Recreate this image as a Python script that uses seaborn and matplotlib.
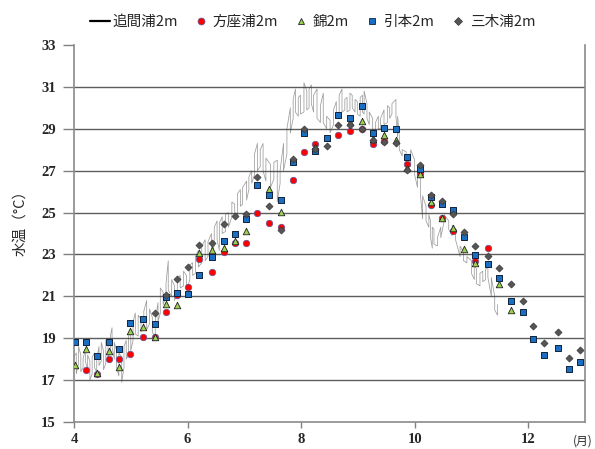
import numpy as np
import pandas as pd
import matplotlib
matplotlib.use("Agg")
import matplotlib.pyplot as plt
from matplotlib.lines import Line2D
import seaborn as sns

# ---- observation dates (fractional month) and point readings (deg C) ----
obs_month = [4.02, 4.21, 4.41, 4.61, 4.80, 4.99, 5.22, 5.43, 5.62, 5.81,
             6.01, 6.21, 6.43, 6.64, 6.84, 7.03, 7.23, 7.43, 7.65, 7.85,
             8.05, 8.24, 8.45, 8.65, 8.86, 9.07, 9.27, 9.46, 9.67, 9.86,
             10.09, 10.28, 10.48, 10.68, 10.87, 11.07, 11.30, 11.49, 11.70, 11.90,
             12.09, 12.28, 12.52, 12.71, 12.91]

nan = np.nan
hozaura = [nan, 17.48, 17.28, 17.99, 17.99, 18.27, 19.05, 19.04, 20.27, 21.08,
           21.46, 22.77, 22.18, 23.13, 23.56, 23.56, 25.00, 24.49, 24.30, 26.57,
           27.90, 28.29, nan, 28.72, 28.88, 28.97, 28.25, 28.40, nan, 27.34,
           26.84, 25.35, 24.76, 24.12, nan, 22.71, 23.29, nan, nan, nan,
           nan, nan, nan, nan, nan]
nishiki = [17.72, 18.47, 17.33, 18.39, 17.64, 19.35, 19.55, 19.04, 20.65, 20.57,
           nan, 23.05, 23.20, 23.30, 23.66, 24.10, nan, 26.12, 25.03, nan,
           nan, 28.14, nan, nan, 29.30, 29.37, 28.49, 28.70, 28.45, 27.15,
           26.82, 25.51, 24.76, 24.28, 23.28, 22.60, nan, 21.60, 20.36, nan,
           nan, nan, nan, nan, nan]
hikimoto = [18.80, 18.80, 18.15, 18.80, 18.50, 19.75, 19.90, 19.67, 20.95, 21.15,
            21.12, 22.03, 22.87, 23.65, 23.97, 24.68, 26.30, 25.84, 25.60, 27.42,
            28.78, 27.96, 28.56, 29.68, 29.53, 30.10, 28.80, 29.03, 28.97, 27.67,
            27.06, 25.72, 25.40, 25.11, 23.84, 22.97, 22.52, 21.88, 20.76, 20.24,
            18.98, 18.19, 18.54, 17.54, 17.87]
mikiura = [nan, nan, nan, nan, nan, nan, nan, 20.22, 21.08, 21.83,
           22.38, 23.46, 23.56, 24.45, 24.84, 24.93, 26.69, 25.31, 24.17, 27.57,
           28.97, 28.05, 28.17, 29.16, 29.16, 28.97, 28.46, 28.37, 28.30, 27.03,
           27.27, 25.83, 25.53, 24.92, 24.07, 23.40, 22.92, 22.36, 21.58, 20.80,
           19.57, 18.75, 19.30, 18.06, 18.43]

# ---- continuous logger at Hasamaura: daily low / high envelope ----
trace_month = [4.00, 4.04, 4.08, 4.12, 4.16, 4.20, 4.24, 4.28, 4.32, 4.36,
               4.40, 4.44, 4.48, 4.52, 4.56, 4.60, 4.64, 4.67, 4.71, 4.75,
               4.79, 4.84, 4.88, 4.92, 4.96,
               5.00, 5.04, 5.08, 5.13, 5.18, 5.23, 5.28, 5.33, 5.38, 5.43,
               5.48, 5.52, 5.57, 5.62, 5.66, 5.72, 5.77, 5.82, 5.87, 5.93, 5.98,
               6.04, 6.09, 6.14, 6.19, 6.25, 6.31, 6.36, 6.42, 6.47, 6.52,
               6.56, 6.61, 6.67, 6.72, 6.78, 6.83, 6.88, 6.93, 6.97,
               7.04, 7.08, 7.13, 7.18, 7.23, 7.28, 7.33, 7.38, 7.46, 7.52,
               7.58, 7.63, 7.69, 7.75, 7.81, 7.86, 7.90, 7.95, 7.99,
               8.05, 8.10, 8.14, 8.18, 8.22, 8.28, 8.34, 8.39, 8.45, 8.51,
               8.57, 8.62, 8.67, 8.72, 8.77, 8.81, 8.86, 8.90, 8.95, 8.99,
               9.04, 9.08, 9.11, 9.16, 9.20, 9.26, 9.31, 9.36, 9.40, 9.46,
               9.52, 9.56, 9.60, 9.67, 9.70, 9.73, 9.78, 9.85, 9.93,
               10.00, 10.05, 10.10, 10.14, 10.20, 10.25, 10.28, 10.31, 10.34, 10.40,
               10.46, 10.52, 10.60, 10.66, 10.72, 10.80, 10.86, 10.92,
               11.00, 11.05, 11.09, 11.15, 11.20, 11.25, 11.29, 11.35, 11.41, 11.46]
trace_low = [17.6, 17.3, 17.8, 17.4, 17.6, 17.9, 17.5, 17.0, 17.3, 17.6,
             17.4, 17.7, 17.9, 17.5, 17.8, 18.1, 18.3, 18.6, 18.0, 17.6,
             17.2, 16.9, 17.6, 18.0, 18.2,
             18.4, 18.9, 19.2, 19.1, 19.3, 19.5, 19.4, 19.7, 19.3, 19.0,
             19.8, 20.2, 20.6, 21.0, 21.3, 21.0, 20.8, 21.2, 21.4, 21.5, 21.3,
             21.8, 22.0, 22.1, 22.4, 22.6, 22.7, 22.9, 23.1, 23.4, 23.7,
             23.2, 24.0, 24.1, 24.3, 24.8, 25.0, 24.8, 25.3, 25.4,
             25.6, 26.1, 26.4, 26.8, 27.0, 27.2, 27.0, 26.5, 26.2, 26.6,
             25.5, 26.4, 27.0, 27.8, 28.8, 29.5, 29.8, 29.6, 29.7,
             29.8, 29.9, 30.0, 30.2, 29.8, 29.5, 29.3, 29.3, 29.0, 28.8,
             29.2, 29.5, 29.8, 29.8, 29.9, 29.8, 29.9, 30.0, 29.8, 29.7,
             29.6, 29.8, 29.7, 29.5, 29.2, 29.0, 28.9, 29.0, 29.0, 29.2,
             29.3, 29.5, 29.7, 29.6, 28.6, 28.0, 27.7, 27.4, 27.2,
             26.8, 26.2, 25.9, 24.7, 24.6, 24.3, 23.8, 23.3, 23.5, 23.4,
             23.8, 24.6, 24.2, 23.9, 23.7, 22.9, 22.7, 22.6,
             22.1, 21.8, 21.6, 21.5, 21.7, 21.8, 21.9, 21.0, 20.35, 20.1]
trace_high = [18.1, 18.3, 18.6, 18.2, 18.0, 18.5, 18.2, 17.9, 18.1, 18.3,
              18.0, 18.6, 18.8, 18.4, 18.9, 19.0, 19.1, 19.5, 18.8, 18.4,
              18.3, 18.1, 18.6, 18.9, 19.1,
              19.3, 19.8, 20.2, 20.1, 19.9, 20.3, 20.8, 20.4, 20.0, 19.8,
              20.7, 21.4, 21.2, 21.6, 22.7, 21.8, 21.5, 21.9, 22.0, 22.2, 22.0,
              22.5, 22.6, 22.9, 23.2, 23.4, 23.7, 23.6, 24.0, 24.3, 24.6,
              24.5, 24.8, 24.9, 25.0, 25.5, 25.4, 25.9, 26.1, 26.2,
              26.5, 26.7, 27.0, 27.8, 28.3, 28.0, 28.3, 27.6, 27.3, 27.4,
              27.5, 27.0, 28.3, 29.0, 30.0, 30.4, 30.9, 30.5, 30.6,
              31.2, 30.8, 30.9, 31.1, 30.6, 30.9, 30.1, 30.7, 29.6, 29.4,
              29.9, 30.3, 30.6, 30.9, 30.4, 30.5, 30.7, 30.6, 30.4, 30.3,
              30.5, 30.6, 30.8, 30.2, 29.8, 29.5, 29.3, 29.6, 29.5, 29.9,
              30.1, 30.0, 30.2, 30.4, 29.6, 28.6, 28.0, 27.9, 28.0,
              27.5, 26.9, 26.6, 25.8, 25.3, 24.9, 24.6, 24.3, 24.2, 23.8,
              24.3, 24.9, 24.6, 24.4, 24.2, 23.4, 23.1, 22.9,
              22.7, 22.5, 22.3, 22.1, 22.2, 22.3, 22.4, 21.9, 21.0, 20.6]

month_ticks = [4, 6, 8, 10, 12]
temp_ticks = [15, 17, 19, 21, 23, 25, 27, 29, 31, 33]

labels = ["追間浦2m", "方座浦2m", "錦2m", "引本2m", "三木浦2m"]

sns.set_theme(style="white")
plt.rcParams["font.family"] = ["Noto Sans CJK JP", "DejaVu Sans"]

fig = plt.figure(figsize=(5.95, 4.49), dpi=100)
ax = fig.add_axes([74 / 595, 1 - 422 / 449, (585 - 74) / 595, (422 - 45) / 449])

# logger trace: each day drawn as a vertical stroke low<->high, joined in time order
xs, ys = [], []
for i, (m, lo, hi) in enumerate(zip(trace_month, trace_low, trace_high)):
    pair = (lo, hi) if i % 2 == 0 else (hi, lo)
    xs += [m, m]
    ys += list(pair)
trace_df = pd.DataFrame({"month": xs, "temp": ys})
sns.lineplot(data=trace_df, x="month", y="temp", sort=False, estimator=None,
             errorbar=None, color="#3a3a3a", lw=0.55, alpha=0.5, ax=ax, zorder=2)

obs = pd.DataFrame({"month": obs_month, "hozaura": hozaura, "nishiki": nishiki,
                    "hikimoto": hikimoto, "mikiura": mikiura})

styles = [
    ("hozaura", "o", 22, "#ff0000", "#5a5aa0", 0.5),
    ("nishiki", "^", 22, "#9bd14f", "#222222", 0.6),
    ("hikimoto", "s", 25, "#1b6fc2", "#10233d", 0.7),
    ("mikiura", "D", 13, "#555555", "#3a3a3a", 0.5),
]
for z, (col, mk, size, fc, ec, lw) in enumerate(styles):
    sns.scatterplot(data=obs, x="month", y=col, marker=mk, s=size, color=fc,
                    edgecolor=ec, linewidth=lw, ax=ax, zorder=3 + z, legend=False)

ax.set_xlim(4, 13)
ax.set_ylim(15, 33)
ax.set_xticks(month_ticks)
ax.set_yticks(temp_ticks)
ax.set_xlabel("")
ax.set_ylabel("")

tick_font = dict(family="Liberation Serif", weight="bold", size=10.5)
ax.set_xticklabels([str(t) for t in month_ticks], fontdict=tick_font)
ax.set_yticklabels([str(t) for t in temp_ticks], fontdict=tick_font)
ax.tick_params(axis="y", direction="out", length=8, width=1, color="#808080", pad=5, left=True)
ax.tick_params(axis="x", direction="out", length=4, width=1, color="#808080", pad=4, bottom=True)

ax.set_axisbelow(True)
ax.yaxis.grid(True, color="#5c5c5c", lw=1.0)
gls = ax.yaxis.get_gridlines()
gls[0].set_visible(False)
gls[-1].set_visible(False)

for side in ["left", "bottom", "right"]:
    ax.spines[side].set_visible(True)
    ax.spines[side].set_color("#8a8a8a")
    ax.spines[side].set_linewidth(1.2)
ax.spines["top"].set_visible(False)

fig.text(20 / 595, 1 - 220 / 449, "水温（°C）", rotation=90, fontsize=10.5,
         ha="center", va="center")
fig.text(583 / 595, 1 - 441 / 449, "(月)", fontsize=8.5, ha="center", va="center")

handles = [
    Line2D([], [], color="black", lw=1.6),
    Line2D([], [], marker="o", ls="none", ms=5, mfc="#ff0000", mec="#5a5aa0", mew=0.5),
    Line2D([], [], marker="^", ls="none", ms=5, mfc="#9bd14f", mec="#222222", mew=0.6),
    Line2D([], [], marker="s", ls="none", ms=5, mfc="#1b6fc2", mec="#10233d", mew=0.6),
    Line2D([], [], marker="D", ls="none", ms=4, mfc="#555555", mec="#3a3a3a", mew=0.5),
]
fig.legend(handles, labels, loc="center", bbox_to_anchor=(313 / 595, 1 - 22 / 449),
           ncol=5, frameon=False, fontsize=10.5, handlelength=1.35,
           handletextpad=0.15, columnspacing=0.9)

fig.savefig("out.png", dpi=100)
